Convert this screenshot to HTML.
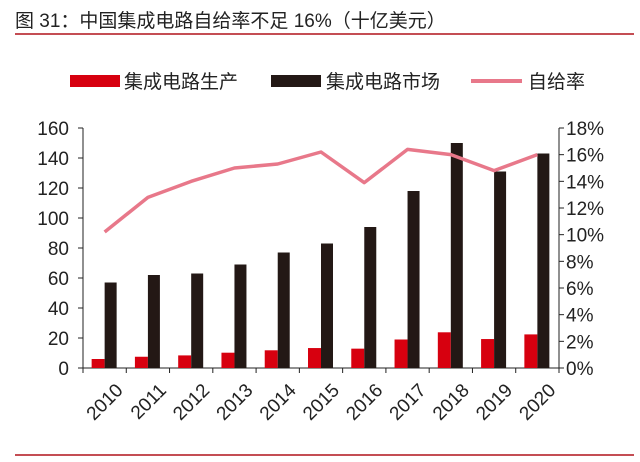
<!DOCTYPE html>
<html><head><meta charset="utf-8"><style>
body{margin:0;background:#fff;width:640px;height:457px;overflow:hidden;font-family:"Liberation Sans","Noto Sans CJK SC",sans-serif}
</style></head><body>
<svg width="640" height="457" viewBox="0 0 640 457" style="font-family:'Liberation Sans','Noto Sans CJK SC',sans-serif">
<text x="15" y="27" font-size="19" fill="#222">图 31：中国集成电路自给率不足 16%（十亿美元）</text>
<line x1="15" y1="34" x2="634" y2="34" stroke="#b0121b" stroke-width="1.5"/>
<line x1="15" y1="455" x2="634" y2="455" stroke="#b0121b" stroke-width="1.5"/>
<g>
<rect x="70" y="75" width="50" height="12" fill="#d7000f"/>
<text x="124" y="88" font-size="19" fill="#222">集成电路生产</text>
<rect x="271" y="75" width="50" height="12" fill="#231815"/>
<text x="326" y="88" font-size="19" fill="#222">集成电路市场</text>
<line x1="471" y1="81" x2="522" y2="81" stroke="#e8788a" stroke-width="4"/>
<text x="528" y="88" font-size="19" fill="#222">自给率</text>
</g>
<g id="plot"></g>
</svg>
<script>
const categories=["2010","2011","2012","2013","2014","2015","2016","2017","2018","2019","2020"];
const production=[6,7.5,8.4,10.2,11.8,13.3,12.9,19,23.8,19.3,22.4];
const market=[57,62,63,69,77,83,94,118,150,131,143];
const ratio=[10.2,12.8,14.0,15.0,15.3,16.2,13.9,16.4,16.0,14.8,16.0];
const leftTicks=[0,20,40,60,80,100,120,140,160];
const rightTicks=[0,2,4,6,8,10,12,14,16,18];
const X0=83,X1=559,Y0=368,Y1=128;
const cw=(X1-X0)/categories.length;
const yL=v=>Y0-(v/160)*(Y0-Y1);
const yR=v=>Y0-(v/18)*(Y0-Y1);
const ns="http://www.w3.org/2000/svg";
const g=document.getElementById('plot');
function mk(t,a){const e=document.createElementNS(ns,t);for(const k in a)e.setAttribute(k,a[k]);g.appendChild(e);return e;}
let e;
e=mk('line',{x1:X0,y1:Y1,x2:X0,y2:Y0,stroke:'#222'});


e=mk('line',{x1:X1,y1:Y1,x2:X1,y2:Y0,stroke:'#222'});


e=mk('line',{x1:X0,y1:Y0,x2:X1,y2:Y0,stroke:'#222'});


leftTicks.forEach(v=>{
 e=mk('line',{x1:X0-5,y1:yL(v),x2:X0,y2:yL(v),stroke:'#222'});
 
 
 e=mk('text',{x:X0-14,y:yL(v)+7,'font-size':19,'text-anchor':'end',fill:'#222'});e.textContent=v;
 
 
});
rightTicks.forEach(v=>{
 e=mk('line',{x1:X1,y1:yR(v),x2:X1+5,y2:yR(v),stroke:'#222'});
 
 
 e=mk('text',{x:X1+7,y:yR(v)+7,'font-size':19,fill:'#222'});e.textContent=v+'%';
 
 
});
for(let i=0;i<=categories.length;i++){
 e=mk('line',{x1:X0+i*cw,y1:Y0,x2:X0+i*cw,y2:Y0+5,stroke:'#222'});
 
 
}
categories.forEach((c,i)=>{
 const cx=X0+i*cw+cw/2;
 e=mk('rect',{x:cx-13,y:yL(production[i]),width:13,height:Y0-yL(production[i]),fill:'#d7000f'});
 
 
 e=mk('rect',{x:cx,y:yL(market[i]),width:12,height:Y0-yL(market[i]),fill:'#231815'});
 
 
 e=mk('text',{x:cx+10,y:382,'font-size':19,'text-anchor':'end',fill:'#222',transform:`rotate(-45 ${cx+10} 382)`,dy:'0.7em'});e.textContent=c;
 
 
});
const pts=ratio.map((v,i)=>(X0+i*cw+cw/2)+','+yR(v)).join(' ');
e=mk('polyline',{points:pts,fill:'none',stroke:'#e8788a','stroke-width':3.5,'stroke-linejoin':'round'});


</script>
</body></html>
